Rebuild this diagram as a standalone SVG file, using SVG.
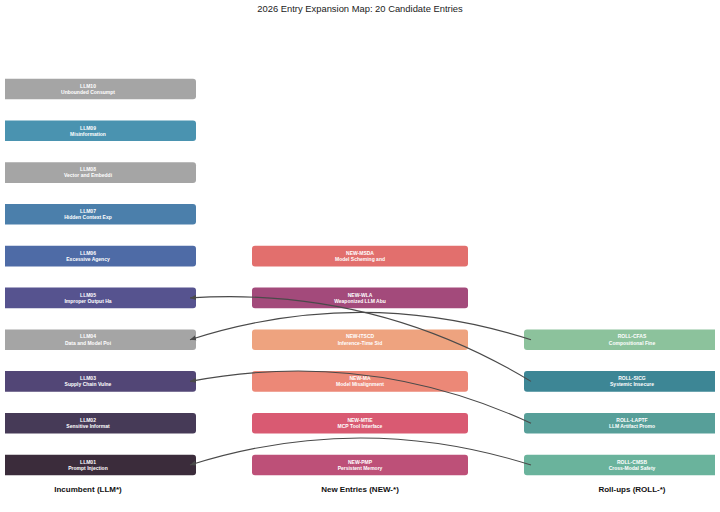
<svg xmlns="http://www.w3.org/2000/svg" width="720" height="512" viewBox="0 0 720 512">
<defs>
<clipPath id="ax"><rect x="5" y="0" width="710" height="512"/></clipPath>
<marker id="ah" markerUnits="userSpaceOnUse" markerWidth="8" markerHeight="6" refX="6" refY="3" orient="auto">
<path d="M0,0.4 L6,3 L0,5.6 Z" fill="#4a4a4a"/>
</marker>
</defs>
<style>
.bx{stroke:none}
.t{font-family:"Liberation Sans",Arial,sans-serif;font-size:5px;font-weight:bold;fill:#ffffff;text-anchor:middle}
.h{font-family:"Liberation Sans",Arial,sans-serif;font-size:8px;font-weight:bold;fill:#111111;text-anchor:middle}
.ttl{font-family:"Liberation Sans",Arial,sans-serif;font-size:9.4px;fill:#222222;text-anchor:middle}
.c{fill:none;stroke:#4a4a4a;stroke-width:1.1;marker-end:url(#ah)}
</style>
<rect width="720" height="512" fill="#ffffff"/>
<text class="ttl" x="360" y="12.4">2026 Entry Expansion Map: 20 Candidate Entries</text>

<g clip-path="url(#ax)">
<g id="LLM10"><rect class="bx" x="-20" y="78.7" width="216" height="20.6" rx="3" fill="#a5a5a5"/><text class="t" x="88" y="87.7">LLM10</text><text class="t" x="88" y="93.8">Unbounded Consumpt</text></g>
<g id="LLM09"><rect class="bx" x="-20" y="120.5" width="216" height="20.6" rx="3" fill="#4a93b0"/><text class="t" x="88" y="129.5">LLM09</text><text class="t" x="88" y="135.6">Misinformation</text></g>
<g id="LLM08"><rect class="bx" x="-20" y="162.3" width="216" height="20.6" rx="3" fill="#a5a5a5"/><text class="t" x="88" y="171.3">LLM08</text><text class="t" x="88" y="177.4">Vector and Embeddi</text></g>
<g id="LLM07"><rect class="bx" x="-20" y="204" width="216" height="20.6" rx="3" fill="#4b7fab"/><text class="t" x="88" y="213">LLM07</text><text class="t" x="88" y="219.1">Hidden Context Exp</text></g>
<g id="LLM06"><rect class="bx" x="-20" y="245.8" width="216" height="20.6" rx="3" fill="#4e6ba6"/><text class="t" x="88" y="254.8">LLM06</text><text class="t" x="88" y="260.9">Excessive Agency</text></g>
<g id="LLM05"><rect class="bx" x="-20" y="287.6" width="216" height="20.6" rx="3" fill="#56538f"/><text class="t" x="88" y="296.6">LLM05</text><text class="t" x="88" y="302.7">Improper Output Ha</text></g>
<g id="LLM04"><rect class="bx" x="-20" y="329.4" width="216" height="20.6" rx="3" fill="#a5a5a5"/><text class="t" x="88" y="338.4">LLM04</text><text class="t" x="88" y="344.5">Data and Model Poi</text></g>
<g id="LLM03"><rect class="bx" x="-20" y="371.1" width="216" height="20.6" rx="3" fill="#524676"/><text class="t" x="88" y="380.1">LLM03</text><text class="t" x="88" y="386.2">Supply Chain Vulne</text></g>
<g id="LLM02"><rect class="bx" x="-20" y="412.9" width="216" height="20.6" rx="3" fill="#463a57"/><text class="t" x="88" y="421.9">LLM02</text><text class="t" x="88" y="428">Sensitive Informat</text></g>
<g id="LLM01"><rect class="bx" x="-20" y="454.7" width="216" height="20.6" rx="3" fill="#3b2c3b"/><text class="t" x="88" y="463.7">LLM01</text><text class="t" x="88" y="469.8">Prompt Injection</text></g>

<g id="NEW-MSDA"><rect class="bx" x="252" y="245.8" width="216" height="20.6" rx="3" fill="#e26f6d"/><text class="t" x="360" y="254.8">NEW-MSDA</text><text class="t" x="360" y="260.9">Model Scheming and</text></g>
<g id="NEW-WLA"><rect class="bx" x="252" y="287.6" width="216" height="20.6" rx="3" fill="#a34a7b"/><text class="t" x="360" y="296.6">NEW-WLA</text><text class="t" x="360" y="302.7">Weaponized LLM Abu</text></g>
<g id="NEW-ITSCD"><rect class="bx" x="252" y="329.4" width="216" height="20.6" rx="3" fill="#eea37f"/><text class="t" x="360" y="338.4">NEW-ITSCD</text><text class="t" x="360" y="344.5">Inference-Time Sid</text></g>
<g id="NEW-MA"><rect class="bx" x="252" y="371.1" width="216" height="20.6" rx="3" fill="#ec8877"/><text class="t" x="360" y="380.1">NEW-MA</text><text class="t" x="360" y="386.2">Model Misalignment</text></g>
<g id="NEW-MTIE"><rect class="bx" x="252" y="412.9" width="216" height="20.6" rx="3" fill="#d95a72"/><text class="t" x="360" y="421.9">NEW-MTIE</text><text class="t" x="360" y="428">MCP Tool Interface</text></g>
<g id="NEW-PMP"><rect class="bx" x="252" y="454.7" width="216" height="20.6" rx="3" fill="#bd5078"/><text class="t" x="360" y="463.7">NEW-PMP</text><text class="t" x="360" y="469.8">Persistent Memory</text></g>

<g id="ROLL-CFAS"><rect class="bx" x="524" y="329.4" width="216" height="20.6" rx="3" fill="#8cc29c"/><text class="t" x="632" y="338.4">ROLL-CFAS</text><text class="t" x="632" y="344.5">Compositional Fine</text></g>
<g id="ROLL-SICG"><rect class="bx" x="524" y="371.1" width="216" height="20.6" rx="3" fill="#3d8695"/><text class="t" x="632" y="380.1">ROLL-SICG</text><text class="t" x="632" y="386.2">Systemic Insecure</text></g>
<g id="ROLL-LAPTF"><rect class="bx" x="524" y="412.9" width="216" height="20.6" rx="3" fill="#579f99"/><text class="t" x="632" y="421.9">ROLL-LAPTF</text><text class="t" x="632" y="428">LLM Artifact Promo</text></g>
<g id="ROLL-CMSB"><rect class="bx" x="524" y="454.7" width="216" height="20.6" rx="3" fill="#6ab39c"/><text class="t" x="632" y="463.7">ROLL-CMSB</text><text class="t" x="632" y="469.8">Cross-Modal Safety</text></g>
</g>

<g id="connectors">
<path class="c" d="M531,381.4 Q373.6,286.2 190,297.9"/>
<path class="c" d="M531,339.7 Q360.5,285 190,339.7"/>
<path class="c" d="M531,423.2 Q367.2,347.7 190,381.4"/>
<path class="c" d="M531,465 Q360.5,411 190,465"/>
</g>

<text class="h" x="88" y="492">Incumbent (LLM*)</text>
<text class="h" x="360" y="492">New Entries (NEW-*)</text>
<text class="h" x="632" y="492">Roll-ups (ROLL-*)</text>
</svg>
